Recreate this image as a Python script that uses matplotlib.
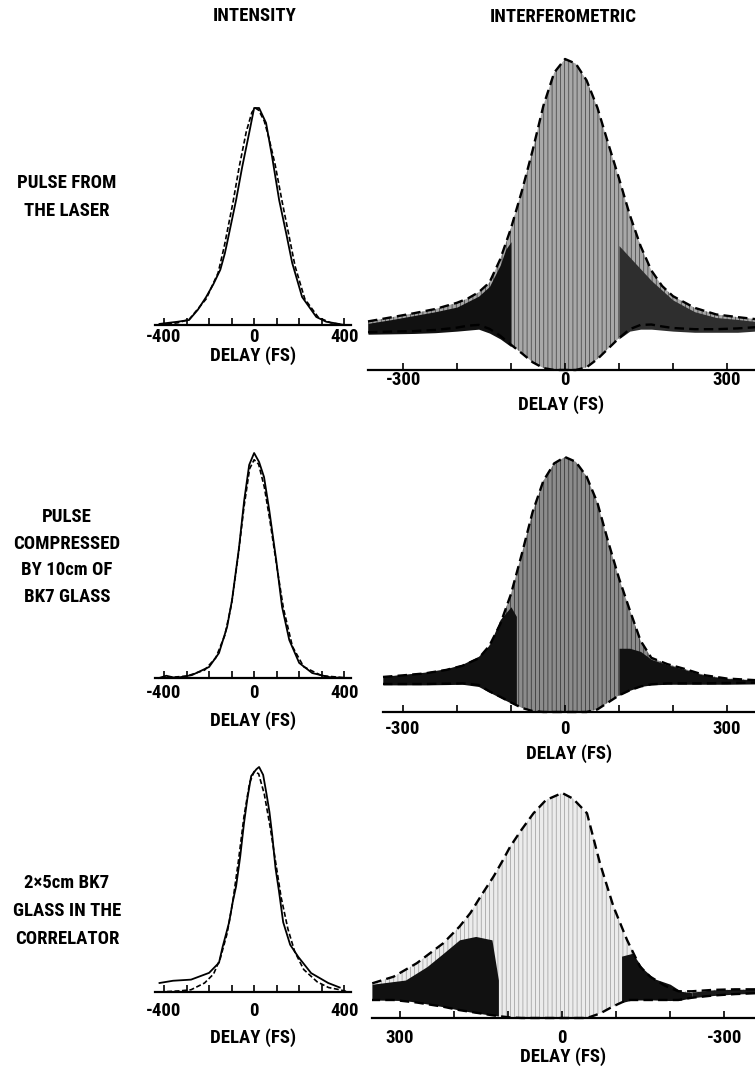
import numpy as np
import matplotlib
matplotlib.use("Agg")
import matplotlib.pyplot as plt

plt.rcParams['font.family'] = ['Roboto Condensed', 'Liberation Sans Narrow', 'DejaVu Sans Condensed',
                               'Open Sans Condensed', 'DejaVu Sans']
plt.rcParams['font.stretch'] = 'condensed'
plt.rcParams['font.weight'] = 'bold'
plt.rcParams['hatch.linewidth'] = 0.5

W, H = 755, 1067
FS = 13.5

# ---- intensity autocorrelation (left column), delay in fs, normalised ----
L1_xs = [-420, -380, -340, -289, -250, -213, -180, -150, -130, -120, -80, -53, -22, 0, 22, 53, 80, 111, 142, 169, 213, 276, 320, 360, 400]
L1_ys = [0.005, 0.01, 0.015, 0.023, 0.07, 0.129, 0.19, 0.255, 0.33, 0.378, 0.576, 0.728, 0.885, 1.0, 1.0, 0.931, 0.774, 0.576, 0.424, 0.286, 0.129, 0.037, 0.015, 0.008, 0.0]
L1_xd = [-420, -340, -289, -213, -160, -133, -93, -66, -35, -10, 5, 20, 45, 66, 93, 124, 155, 182, 225, 285, 340, 400]
L1_yd = [0.0, 0.01, 0.025, 0.12, 0.24, 0.36, 0.57, 0.73, 0.89, 0.98, 1.0, 0.99, 0.94, 0.86, 0.74, 0.57, 0.41, 0.27, 0.12, 0.035, 0.01, 0.0]

L2_xs = [-422, -390, -347, -276, -200, -156, -120, -98, -67, -44, -22, 0, 22, 44, 67, 98, 124, 156, 200, 258, 333, 391]
L2_ys = [0.0, 0.01, 0.0, 0.013, 0.049, 0.111, 0.227, 0.347, 0.58, 0.79, 0.947, 1.0, 0.96, 0.893, 0.747, 0.524, 0.316, 0.169, 0.067, 0.022, 0.004, 0.0]
L2_xd = [-420, -300, -220, -170, -130, -100, -70, -45, -20, 0, 20, 45, 70, 100, 130, 170, 220, 300, 420]
L2_yd = [0.0, 0.008, 0.035, 0.09, 0.19, 0.33, 0.55, 0.76, 0.93, 0.97, 0.95, 0.85, 0.70, 0.50, 0.31, 0.14, 0.05, 0.01, 0.0]

L3_xs = [-420, -360, -280, -200, -156, -140, -124, -111, -95, -80, -62, -45, -30, -13, 10, 22, 40, 55, 68, 80, 95, 110, 129, 160, 196, 253, 329, 380]
L3_ys = [0.04, 0.05, 0.055, 0.085, 0.13, 0.20, 0.26, 0.31, 0.40, 0.47, 0.60, 0.75, 0.86, 0.96, 0.99, 1.0, 0.965, 0.88, 0.80, 0.70, 0.55, 0.45, 0.31, 0.21, 0.156, 0.084, 0.04, 0.02]
L3_xd = [-420, -330, -280, -220, -180, -150, -120, -95, -70, -45, -20, 0, 20, 45, 70, 95, 120, 150, 180, 220, 280, 330, 380, 420]
L3_yd = [0.0, 0.005, 0.01, 0.04, 0.08, 0.15, 0.26, 0.40, 0.58, 0.78, 0.93, 0.98, 0.97, 0.88, 0.74, 0.58, 0.42, 0.28, 0.18, 0.10, 0.045, 0.02, 0.01, 0.0]

# ---- interferometric autocorrelation (right column): envelopes, peak = 8 ----
R1_x = [-365, -320, -280, -240, -200, -180, -160, -140, -120, -100, -80, -60, -40, -20, 0, 20, 40, 60, 80, 100, 120, 140, 160, 180, 200, 240, 280, 320, 352]
R1_up = [1.25, 1.36, 1.46, 1.57, 1.73, 1.84, 2.00, 2.25, 2.85, 3.65, 4.60, 5.65, 6.80, 7.65, 8.0, 7.88, 7.45, 6.75, 5.83, 4.93, 3.99, 3.19, 2.56, 2.16, 1.90, 1.60, 1.43, 1.36, 1.31]
R1_lo = [0.97, 0.99, 1.00, 1.03, 1.09, 1.14, 1.16, 1.06, 0.88, 0.65, 0.43, 0.20, 0.05, 0.0, 0.0, 0.0, 0.07, 0.28, 0.55, 0.82, 1.05, 1.16, 1.17, 1.12, 1.08, 1.05, 1.05, 1.07, 1.10]
# dense-fringe regions: (delays, top, bottom, grey level)
R1_dark = [
    ([-365, -320, -280, -240, -200, -160, -140, -120, -110, -100],
     [1.2, 1.3, 1.4, 1.5, 1.62, 1.9, 2.15, 2.7, 3.1, 3.3],
     [0.92, 0.93, 0.94, 0.96, 1.0, 1.05, 0.95, 0.8, 0.7, 0.6], "#111111"),
    ([100, 120, 140, 160, 200, 240, 280, 320, 352],
     [3.2, 2.9, 2.6, 2.3, 1.8, 1.5, 1.35, 1.3, 1.25],
     [0.8, 1.0, 1.05, 1.05, 1.0, 0.97, 0.97, 0.97, 1.0], "#2e2e2e"),
]

R2_x = [-337, -300, -260, -220, -190, -160, -140, -120, -100, -80, -60, -40, -20, 0, 20, 40, 60, 80, 100, 120, 140, 160, 190, 220, 260, 300, 352]
R2_up = [1.10, 1.15, 1.21, 1.32, 1.45, 1.68, 2.08, 2.75, 3.70, 4.95, 6.27, 7.25, 7.80, 8.0, 7.85, 7.39, 6.57, 5.35, 4.20, 3.20, 2.24, 1.70, 1.50, 1.36, 1.15, 1.05, 1.00]
R2_lo = [0.88, 0.88, 0.88, 0.89, 0.90, 0.85, 0.65, 0.48, 0.30, 0.13, 0.03, 0.0, 0.0, 0.0, 0.0, 0.0, 0.08, 0.30, 0.52, 0.68, 0.80, 0.87, 0.90, 0.90, 0.90, 0.91, 0.92]
R2_dark = [
    ([-337, -300, -260, -220, -190, -160, -140, -120, -100, -90],
     [1.12, 1.18, 1.25, 1.36, 1.5, 1.75, 2.1, 2.9, 3.3, 3.0],
     [0.85, 0.85, 0.85, 0.86, 0.87, 0.8, 0.62, 0.45, 0.28, 0.2], "#111111"),
    ([100, 120, 140, 160, 190, 220, 260, 300, 352],
     [2.0, 2.0, 1.9, 1.65, 1.48, 1.34, 1.14, 1.05, 1.0],
     [0.52, 0.68, 0.8, 0.85, 0.87, 0.87, 0.87, 0.87, 0.88], "#111111"),
]

# third trace is plotted with the delay axis reversed
R3_x = [-357, -320, -280, -240, -215, -190, -163, -144, -120, -95, -70, -46, -20, 0, 30, 53, 75, 96, 110, 127, 150, 170, 190, 220, 269, 312, 352]
R3_up = [1.02, 1.02, 1.0, 0.95, 0.95, 1.15, 1.47, 1.83, 2.78, 3.96, 5.50, 7.28, 7.80, 8.0, 7.75, 7.28, 6.70, 6.10, 5.60, 5.03, 4.35, 3.73, 3.25, 2.66, 1.95, 1.47, 1.23]
R3_lo = [0.88, 0.85, 0.80, 0.72, 0.64, 0.64, 0.64, 0.64, 0.64, 0.42, 0.16, 0.0, 0.0, 0.0, 0.0, 0.0, 0.0, 0.02, 0.05, 0.09, 0.16, 0.22, 0.28, 0.40, 0.55, 0.64, 0.64]
R3_dark = [
    ([118, 130, 160, 190, 220, 250, 290, 352],
     [1.35, 2.78, 2.9, 2.78, 2.3, 1.83, 1.35, 1.2],
     [0.07, 0.1, 0.18, 0.28, 0.40, 0.5, 0.62, 0.64], "#111111"),
    ([-240, -220, -200, -170, -150, -130, -110],
     [0.9, 0.95, 1.2, 1.4, 1.75, 2.3, 2.2],
     [0.72, 0.64, 0.62, 0.64, 0.64, 0.64, 0.55], "#111111"),
    ([-357, -320, -280, -240],
     [1.02, 1.02, 1.0, 0.92],
     [0.88, 0.85, 0.8, 0.72], "#1a1a1a"),
]

ROW_LABELS = ["PULSE FROM\nTHE LASER",
              "PULSE\nCOMPRESSED\nBY 10cm OF\nBK7 GLASS",
              "2\u00d75cm BK7\nGLASS IN THE\nCORRELATOR"]

fig = plt.figure(figsize=(W / 100, H / 100), dpi=100)


def box(x0, y0, x1, y1):
    return [x0 / W, 1 - y1 / H, (x1 - x0) / W, (y1 - y0) / H]


def style_axis(ax, ticks, labels, tpad, xl_pad):
    for s in ("top", "left", "right"):
        ax.spines[s].set_visible(False)
    ax.spines["bottom"].set_linewidth(1.6)
    ax.set_yticks([])
    ax.set_xticks(ticks)
    ax.set_xticklabels(labels)
    ax.tick_params(axis="x", direction="in", length=5, width=1.2,
                   labelsize=FS, pad=tpad)
    ax.set_xlabel("DELAY (FS)", fontsize=FS, fontweight="bold", labelpad=xl_pad)
    ax.patch.set_alpha(0)


def intensity_panel(rect, xs, ys, xd, yd, tpad, xl_pad):
    ax = fig.add_axes(rect)
    ax.plot(xs, ys, color="k", lw=1.3, clip_on=False)
    ax.plot(xd, yd, color="k", lw=1.2, ls=(0, (3, 1.5)), clip_on=False)
    ax.set_xlim(-440, 430)
    ax.set_ylim(0, 1)
    t = list(range(-400, 401, 100))
    style_axis(ax, t, ["-400" if v == -400 else "0" if v == 0 else "400" if v == 400 else "" for v in t],
               tpad, xl_pad)
    return ax


def interf_panel(rect, x, up, lo, dark, xlim, shade, hcol, tpad, xl_pad):
    ax = fig.add_axes(rect)
    ax.fill_between(x, lo, up, facecolor=shade, edgecolor=hcol,
                    hatch="||||", lw=0, clip_on=False)
    for dx, dt, db, col in dark:
        ax.fill_between(dx, db, dt, color=col, lw=0, clip_on=False)
    ax.plot(x, up, color="k", lw=1.7, ls=(0, (4, 2.2)), clip_on=False)
    ax.plot(x, lo, color="k", lw=1.7, ls=(0, (4, 2.2)), clip_on=False)
    ax.set_xlim(*xlim)
    ax.set_ylim(0, 8)
    t = list(range(-300, 301, 100))
    style_axis(ax, t, ["-300" if v == -300 else "0" if v == 0 else "300" if v == 300 else "" for v in t],
               tpad, xl_pad)
    return ax


intensity_panel(box(155, 108, 351, 325), L1_xs, L1_ys, L1_xd, L1_yd, 2, 0)
intensity_panel(box(155, 453, 351, 678), L2_xs, L2_ys, L2_xd, L2_yd, 4, 7)
intensity_panel(box(155, 767, 351, 992), L3_xs, L3_ys, L3_xd, L3_yd, 7, 6)

interf_panel(box(368, 59, 755, 370), R1_x, R1_up, R1_lo, R1_dark, (-365, 352), "#a8a8a8", "#3a3a3a", 1, 4)
interf_panel(box(383, 457, 755, 712), R2_x, R2_up, R2_lo, R2_dark, (-337, 352), "#8c8c8c", "#2a2a2a", 6, 4)
interf_panel(box(372, 793, 755, 1018), R3_x, R3_up, R3_lo, R3_dark, (352, -357), "#ececec", "#9a9a9a", 8, 0)

fig.text(255 / W, 1 - 16 / H, "INTENSITY", ha="center", va="center", fontsize=FS, fontweight="bold")
fig.text(563 / W, 1 - 17 / H, "INTERFEROMETRIC", ha="center", va="center", fontsize=FS, fontweight="bold")

for lab, yc, ls in zip(ROW_LABELS, [197, 557, 911], [1.75, 1.6, 1.75]):
    fig.text(67 / W, 1 - yc / H, lab, ha="center", va="center", fontsize=FS,
             fontweight="bold", linespacing=ls)

fig.savefig("out.png", dpi=100, facecolor="white")
